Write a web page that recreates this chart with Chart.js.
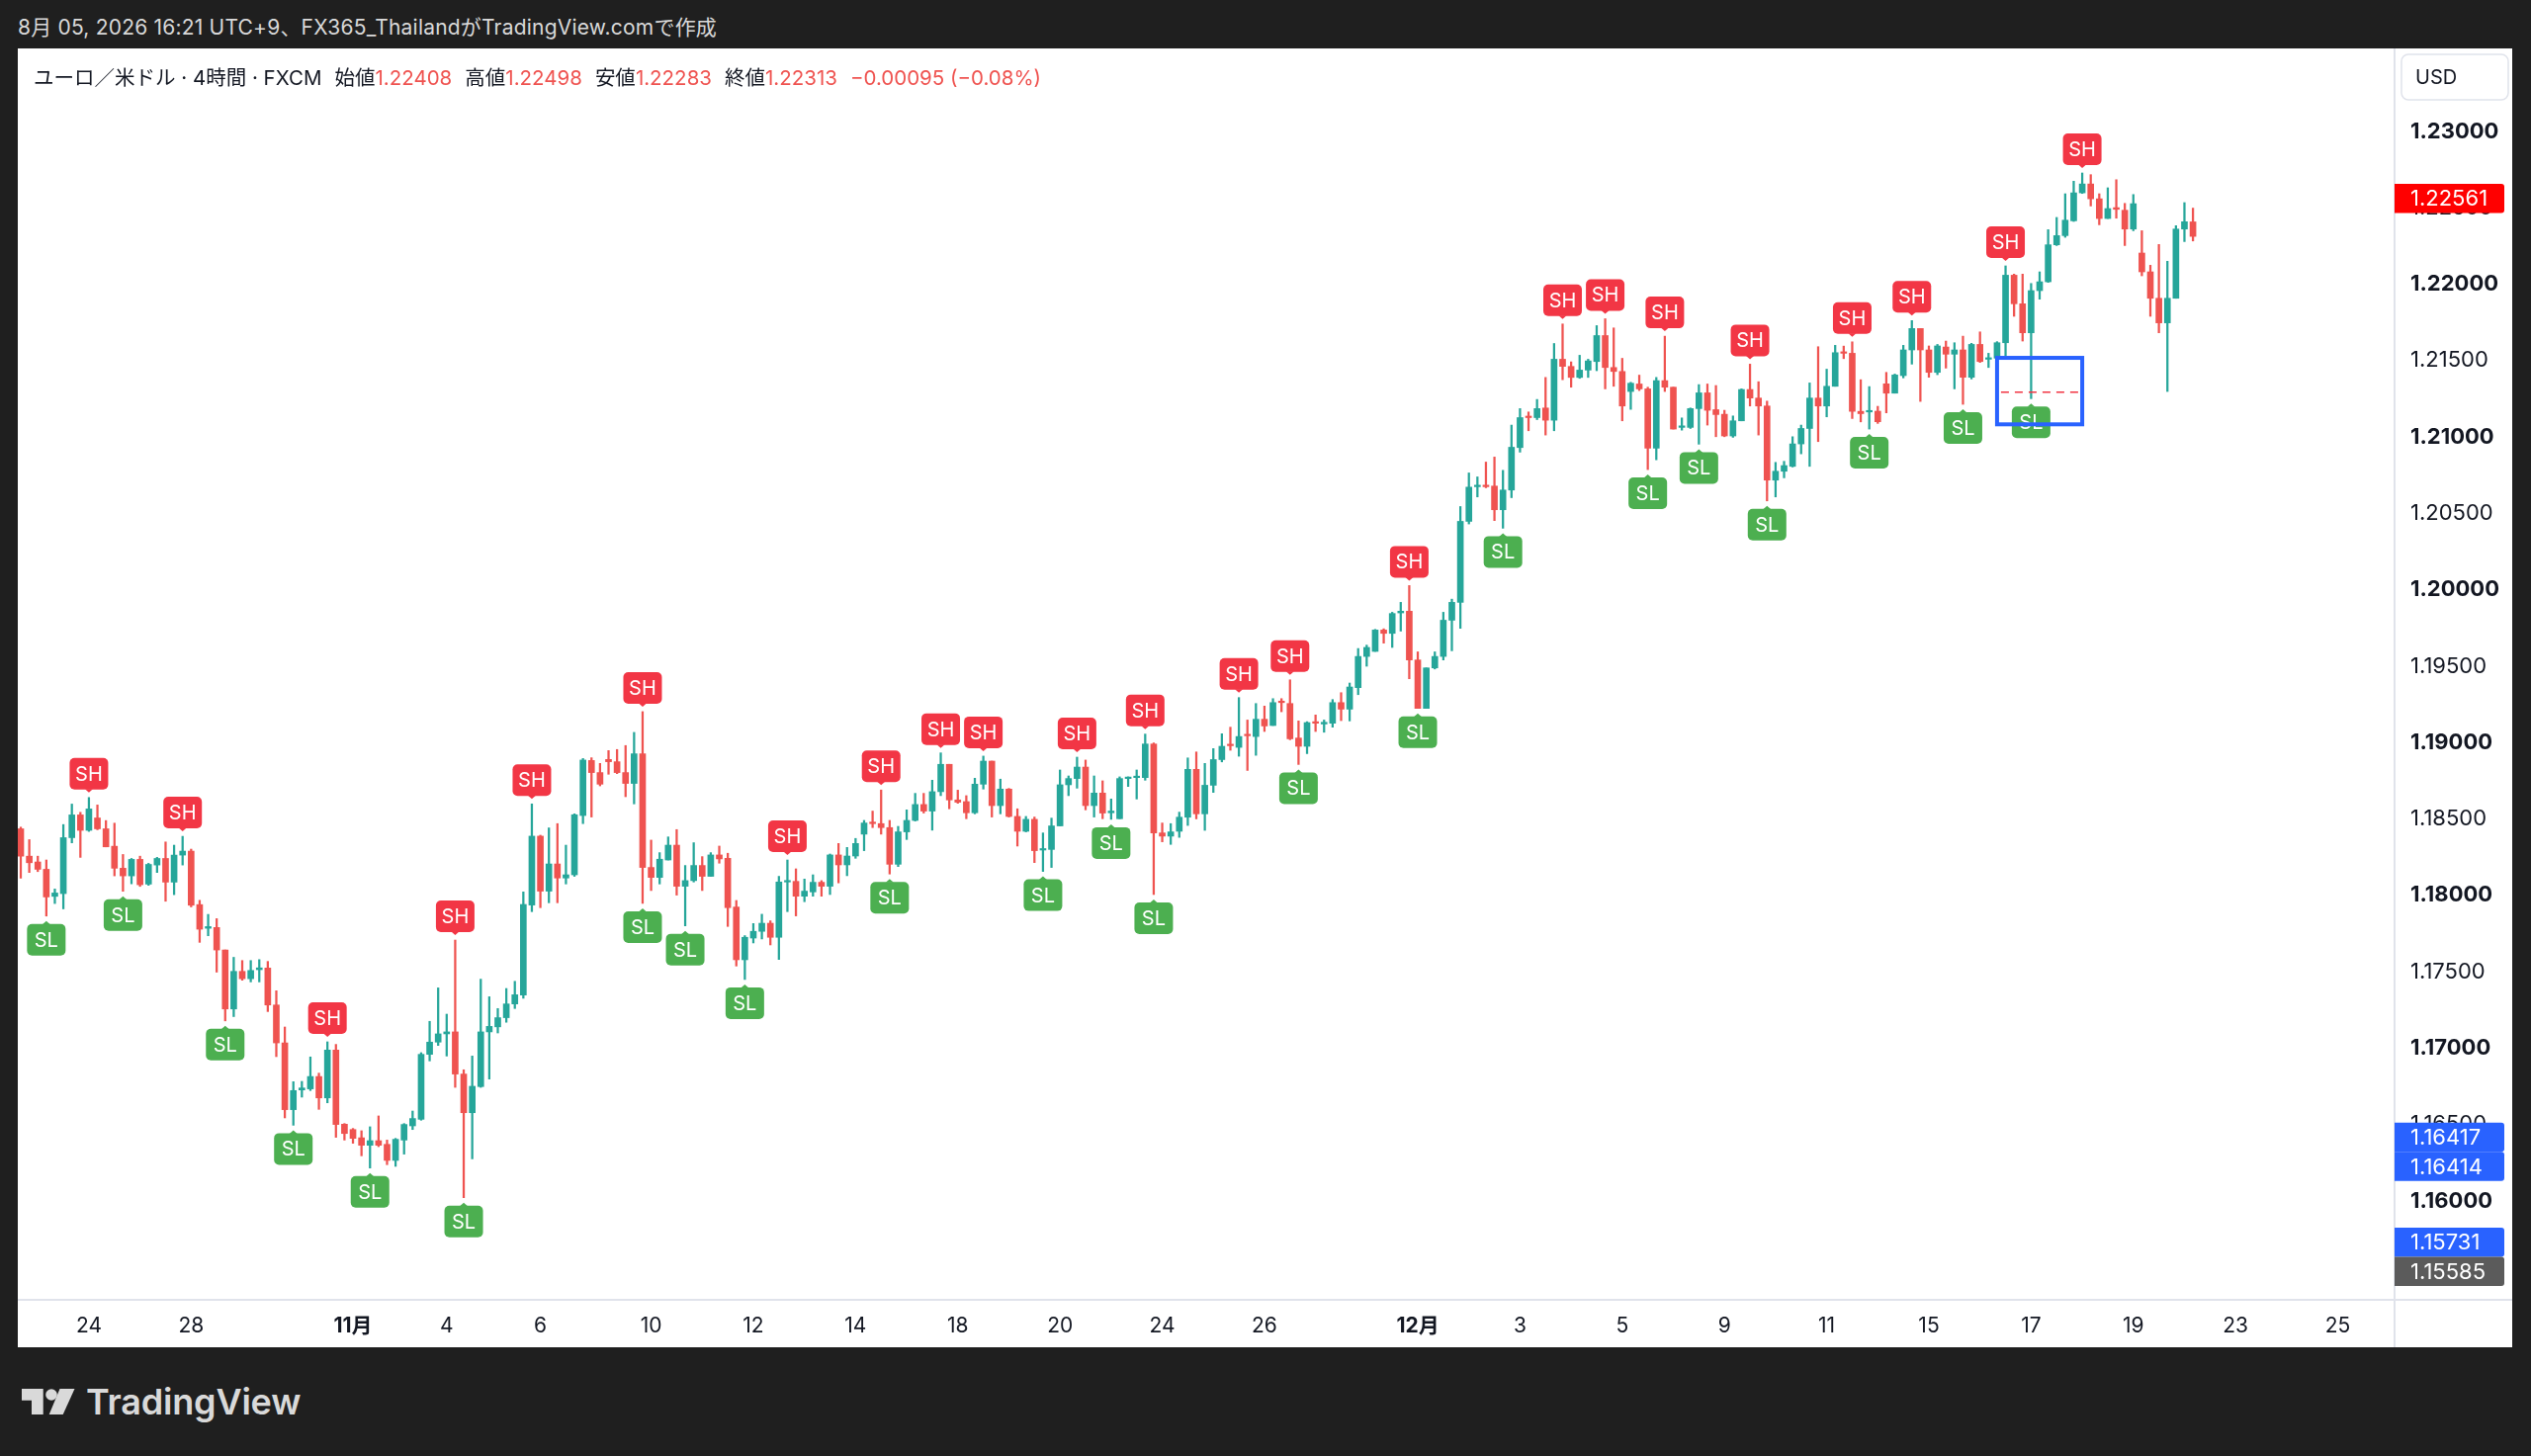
<!DOCTYPE html>
<html lang="ja">
<head>
<meta charset="utf-8">
<title>ユーロ／米ドル · 4時間 · FXCM</title>
<script src="https://cdn.jsdelivr.net/npm/chart.js@4.4.1/dist/chart.umd.min.js"></script>
<style>
  html, body { margin: 0; padding: 0; }
  body {
    width: 2560px; height: 1473px; background: #1f1f1f;
    position: relative; overflow: hidden;
    font-family: "Inter", "Noto Sans CJK JP", sans-serif;
  }
  #topbar { position: absolute; left: 18px; top: 13px; font-size: 21px; line-height: 30px; color: #d9d9d9; white-space: nowrap; letter-spacing: 0.2px; }
  #panel { position: absolute; left: 18px; top: 49px; width: 2523px; height: 1314px; background: #fff; }
  #legend { position: absolute; left: 16px; top: 15px; font-size: 20.5px; line-height: 30px; color: #131722; white-space: nowrap; z-index: 2; }
  #legend .v { color: #ef5350; }
  #legend .g { margin-left: 13px; }
  #logo { position: absolute; left: 22px; top: 1405px; width: 54px; height: 26px; }
  #brand { position: absolute; left: 87px; top: 1400px; font-size: 36px; line-height: 36px; font-weight: 600; color: #d9d9d9; letter-spacing: -0.2px; }
</style>
</head>
<body>
<div id="topbar">8月 05, 2026 16:21 UTC+9、FX365_ThailandがTradingView.comで作成</div>
<div id="panel">
  <div id="legend">ユーロ／米ドル · 4時間 · FXCM<span class="g">始値</span><span class="v">1.22408</span><span class="g">高値</span><span class="v">1.22498</span><span class="g">安値</span><span class="v">1.22283</span><span class="g">終値</span><span class="v">1.22313</span><span class="g v">−0.00095 (−0.08%)</span></div>
  <canvas id="chart"></canvas>
</div>
<svg id="logo" viewBox="0 0 54 26"><path fill="#d9d9d9" d="M0 0H21.7V26H10V11.7H0Z"/><circle fill="#d9d9d9" cx="30" cy="6" r="5.8"/><path fill="#d9d9d9" d="M38.5 0H53.5L41.7 26H27.7Z"/></svg>
<div id="brand">TradingView</div>
<script>
const FONT = '"Inter", "Noto Sans CJK JP", sans-serif';
const UP = '#26a69a';
const DOWN = '#ef5350';

// 4h candles, oldest first
const open = [
  1.18436, 1.18257, 1.18219, 1.18171, 1.17994, 1.18012, 1.18378, 1.18527, 1.18426, 1.18507,
  1.18436, 1.18322, 1.18178, 1.18128, 1.18236, 1.18074, 1.18199, 1.18242, 1.18087, 1.18264,
  1.18290, 1.17940, 1.17785, 1.17790, 1.17643, 1.17257, 1.17503, 1.17455, 1.17514, 1.17525,
  1.17283, 1.17035, 1.16598, 1.16727, 1.16734, 1.16815, 1.16675, 1.16988, 1.16503, 1.16468,
  1.16414, 1.16365, 1.16395, 1.16371, 1.16266, 1.16399, 1.16492, 1.16535, 1.16960, 1.17040,
  1.17094, 1.17107, 1.16831, 1.16578, 1.16749, 1.17107, 1.17140, 1.17200, 1.17290, 1.17348,
  1.17937, 1.18388, 1.18028, 1.18206, 1.18114, 1.18135, 1.18523, 1.18883, 1.18804, 1.18890,
  1.18875, 1.18804, 1.18733, 1.18927, 1.18183, 1.18118, 1.18232, 1.18329, 1.18060, 1.18097,
  1.18196, 1.18125, 1.18265, 1.18243, 1.17924, 1.17579, 1.17721, 1.17765, 1.17818, 1.17726,
  1.18088, 1.18092, 1.17995, 1.18023, 1.18086, 1.18060, 1.18265, 1.18200, 1.18258, 1.18401,
  1.18480, 1.18470, 1.18444, 1.18204, 1.18416, 1.18491, 1.18595, 1.18552, 1.18679, 1.18858,
  1.18625, 1.18614, 1.18541, 1.18728, 1.18879, 1.18588, 1.18696, 1.18517, 1.18420, 1.18498,
  1.18297, 1.18301, 1.18455, 1.18724, 1.18765, 1.18840, 1.18588, 1.18670, 1.18541, 1.18502,
  1.18765, 1.18771, 1.18771, 1.18991, 1.18409, 1.18388, 1.18420, 1.18512, 1.18825, 1.18534,
  1.18721, 1.18889, 1.18987, 1.18969, 1.19051, 1.19040, 1.19153, 1.19112, 1.19271, 1.19256,
  1.19030, 1.18976, 1.19137, 1.19122, 1.19127, 1.19262, 1.19219, 1.19360, 1.19564, 1.19597,
  1.19737, 1.19715, 1.19849, 1.19860, 1.19541, 1.19224, 1.19489, 1.19564, 1.19801, 1.19918,
  1.20448, 1.20675, 1.20685, 1.20679, 1.20524, 1.20653, 1.20931, 1.21136, 1.21127, 1.21190,
  1.21110, 1.21509, 1.21462, 1.21390, 1.21438, 1.21494, 1.21664, 1.21455, 1.21429, 1.21298,
  1.21347, 1.21315, 1.20927, 1.21369, 1.21326, 1.21063, 1.21063, 1.21186, 1.21289, 1.21179,
  1.21149, 1.21007, 1.21106, 1.21311, 1.21255, 1.21203, 1.20718, 1.20776, 1.20808, 1.20955,
  1.21056, 1.21255, 1.21203, 1.21332, 1.21556, 1.21548, 1.21168, 1.21164, 1.21169, 1.21348,
  1.21287, 1.21402, 1.21570, 1.21710, 1.21570, 1.21423, 1.21589, 1.21542, 1.21570, 1.21391,
  1.21606, 1.21509, 1.21516, 1.21617, 1.22059, 1.21872, 1.21682, 1.21958, 1.22016, 1.22258,
  1.22318, 1.22415, 1.22598, 1.22656, 1.22559, 1.22430, 1.22501, 1.22484, 1.22361, 1.22204,
  1.22081, 1.21908, 1.21747, 1.21908, 1.22361, 1.22408
];
const high = [
  1.18447, 1.18365, 1.18257, 1.18232, 1.18042, 1.18464, 1.18598, 1.18544, 1.18641, 1.18592,
  1.18490, 1.18473, 1.18268, 1.18242, 1.18257, 1.18210, 1.18249, 1.18350, 1.18329, 1.18387,
  1.18303, 1.17968, 1.17876, 1.17848, 1.17643, 1.17595, 1.17574, 1.17574, 1.17580, 1.17568,
  1.17376, 1.17139, 1.16781, 1.16783, 1.16943, 1.16837, 1.17042, 1.17025, 1.16507, 1.16475,
  1.16460, 1.16486, 1.16557, 1.16399, 1.16410, 1.16507, 1.16589, 1.16971, 1.17176, 1.17395,
  1.17223, 1.17708, 1.16859, 1.16949, 1.17452, 1.17337, 1.17260, 1.17391, 1.17438, 1.18023,
  1.18599, 1.18394, 1.18442, 1.18470, 1.18329, 1.18534, 1.18896, 1.18901, 1.18864, 1.18948,
  1.18955, 1.18981, 1.19067, 1.19203, 1.18362, 1.18280, 1.18383, 1.18431, 1.18196, 1.18345,
  1.18254, 1.18280, 1.18323, 1.18276, 1.17967, 1.17737, 1.17816, 1.17877, 1.17834, 1.18125,
  1.18232, 1.18174, 1.18107, 1.18135, 1.18097, 1.18271, 1.18340, 1.18314, 1.18373, 1.18491,
  1.18552, 1.18690, 1.18491, 1.18452, 1.18560, 1.18668, 1.18668, 1.18754, 1.18933, 1.18858,
  1.18689, 1.18653, 1.18767, 1.18912, 1.18879, 1.18761, 1.18700, 1.18567, 1.18517, 1.18513,
  1.18409, 1.18506, 1.18821, 1.18782, 1.18905, 1.18886, 1.18782, 1.18750, 1.18631, 1.18776,
  1.18776, 1.18821, 1.19056, 1.18998, 1.18474, 1.18470, 1.18545, 1.18900, 1.18939, 1.18864,
  1.18961, 1.19058, 1.19101, 1.19295, 1.19148, 1.19256, 1.19239, 1.19288, 1.19288, 1.19411,
  1.19142, 1.19137, 1.19181, 1.19148, 1.19282, 1.19327, 1.19390, 1.19616, 1.19638, 1.19741,
  1.19745, 1.19853, 1.19918, 1.20028, 1.19594, 1.19489, 1.19594, 1.19853, 1.19939, 1.20545,
  1.20765, 1.20739, 1.20836, 1.20869, 1.20782, 1.21078, 1.21186, 1.21164, 1.21246, 1.21390,
  1.21612, 1.21740, 1.21492, 1.21535, 1.21509, 1.21729, 1.21774, 1.21714, 1.21515, 1.21358,
  1.21405, 1.21326, 1.21390, 1.21660, 1.21326, 1.21125, 1.21190, 1.21343, 1.21347, 1.21337,
  1.21175, 1.21138, 1.21315, 1.21477, 1.21362, 1.21235, 1.20834, 1.20841, 1.21002, 1.21078,
  1.21354, 1.21591, 1.21444, 1.21600, 1.21595, 1.21623, 1.21375, 1.21330, 1.21201, 1.21423,
  1.21412, 1.21600, 1.21762, 1.21710, 1.21596, 1.21606, 1.21628, 1.21617, 1.21660, 1.21613,
  1.21688, 1.21548, 1.21624, 1.22120, 1.22066, 1.22066, 1.22005, 1.22081, 1.22357, 1.22437,
  1.22592, 1.22674, 1.22728, 1.22717, 1.22592, 1.22631, 1.22684, 1.22529, 1.22587, 1.22350,
  1.22124, 1.22260, 1.22150, 1.22383, 1.22534, 1.22498
];
const low = [
  1.18113, 1.18150, 1.18156, 1.17865, 1.17947, 1.17912, 1.18344, 1.18249, 1.18419, 1.18430,
  1.18318, 1.18128, 1.18027, 1.18076, 1.18059, 1.18066, 1.18150, 1.17962, 1.18005, 1.18199,
  1.17925, 1.17693, 1.17736, 1.17498, 1.17179, 1.17207, 1.17445, 1.17434, 1.17434, 1.17240,
  1.16945, 1.16544, 1.16496, 1.16680, 1.16723, 1.16600, 1.16643, 1.16417, 1.16399, 1.16378,
  1.16296, 1.16216, 1.16356, 1.16238, 1.16227, 1.16307, 1.16468, 1.16529, 1.16917, 1.17018,
  1.16949, 1.16744, 1.16022, 1.16276, 1.16744, 1.16798, 1.17100, 1.17170, 1.17260, 1.17327,
  1.17894, 1.17920, 1.17952, 1.17952, 1.18075, 1.18125, 1.18470, 1.18513, 1.18717, 1.18793,
  1.18797, 1.18646, 1.18599, 1.17948, 1.18032, 1.18075, 1.18232, 1.18002, 1.17801, 1.18088,
  1.18032, 1.18125, 1.18211, 1.17797, 1.17538, 1.17450, 1.17689, 1.17715, 1.17676, 1.17581,
  1.17894, 1.17866, 1.17959, 1.17995, 1.17995, 1.18006, 1.18082, 1.18129, 1.18243, 1.18293,
  1.18444, 1.18401, 1.18140, 1.18189, 1.18366, 1.18487, 1.18539, 1.18427, 1.18653, 1.18567,
  1.18603, 1.18502, 1.18534, 1.18696, 1.18513, 1.18534, 1.18513, 1.18323, 1.18416, 1.18215,
  1.18157, 1.18183, 1.18455, 1.18653, 1.18702, 1.18560, 1.18513, 1.18502, 1.18498, 1.18502,
  1.18713, 1.18631, 1.18754, 1.18006, 1.18351, 1.18334, 1.18380, 1.18458, 1.18501, 1.18426,
  1.18674, 1.18874, 1.18950, 1.18911, 1.18818, 1.18917, 1.19073, 1.19112, 1.19202, 1.19019,
  1.18857, 1.18928, 1.19073, 1.19068, 1.19101, 1.19144, 1.19142, 1.19314, 1.19500, 1.19597,
  1.19651, 1.19623, 1.19730, 1.19418, 1.19224, 1.19224, 1.19482, 1.19541, 1.19601, 1.19748,
  1.20431, 1.20608, 1.20668, 1.20453, 1.20403, 1.20603, 1.20901, 1.21041, 1.21114, 1.21013,
  1.21041, 1.21375, 1.21326, 1.21384, 1.21390, 1.21434, 1.21315, 1.21332, 1.21106, 1.21181,
  1.21304, 1.20787, 1.20851, 1.21298, 1.21052, 1.21045, 1.21056, 1.20953, 1.21078, 1.21002,
  1.21002, 1.20998, 1.21106, 1.21203, 1.21013, 1.20582, 1.20608, 1.20733, 1.20804, 1.20890,
  1.20808, 1.20970, 1.21132, 1.21332, 1.21513, 1.21121, 1.21099, 1.21052, 1.21089, 1.21158,
  1.21287, 1.21387, 1.21477, 1.21233, 1.21391, 1.21408, 1.21451, 1.21315, 1.21214, 1.21380,
  1.21488, 1.21455, 1.21516, 1.21531, 1.21790, 1.21628, 1.21251, 1.21902, 1.22012, 1.22253,
  1.22307, 1.22411, 1.22594, 1.22512, 1.22389, 1.22430, 1.22432, 1.22253, 1.22350, 1.22055,
  1.21790, 1.21682, 1.21298, 1.21908, 1.22279, 1.22283
];
const close = [
  1.18257, 1.18214, 1.18171, 1.17990, 1.18016, 1.18378, 1.18527, 1.18426, 1.18566, 1.18436,
  1.18318, 1.18178, 1.18128, 1.18236, 1.18070, 1.18203, 1.18242, 1.18087, 1.18264, 1.18290,
  1.17936, 1.17779, 1.17796, 1.17643, 1.17257, 1.17503, 1.17455, 1.17509, 1.17526, 1.17283,
  1.17035, 1.16598, 1.16723, 1.16740, 1.16815, 1.16675, 1.16988, 1.16501, 1.16442, 1.16410,
  1.16365, 1.16395, 1.16365, 1.16266, 1.16404, 1.16501, 1.16540, 1.16960, 1.17040, 1.17094,
  1.17107, 1.16831, 1.16578, 1.16751, 1.17107, 1.17143, 1.17200, 1.17290, 1.17350, 1.17941,
  1.18388, 1.18028, 1.18206, 1.18114, 1.18135, 1.18528, 1.18886, 1.18804, 1.18728, 1.18875,
  1.18804, 1.18733, 1.18927, 1.18183, 1.18118, 1.18237, 1.18329, 1.18060, 1.18097, 1.18196,
  1.18125, 1.18265, 1.18239, 1.17920, 1.17579, 1.17726, 1.17765, 1.17818, 1.17726, 1.18088,
  1.18097, 1.17995, 1.18028, 1.18086, 1.18060, 1.18265, 1.18200, 1.18258, 1.18340, 1.18474,
  1.18470, 1.18444, 1.18204, 1.18416, 1.18491, 1.18595, 1.18552, 1.18679, 1.18858, 1.18625,
  1.18610, 1.18541, 1.18728, 1.18879, 1.18588, 1.18696, 1.18517, 1.18420, 1.18498, 1.18293,
  1.18306, 1.18455, 1.18724, 1.18765, 1.18840, 1.18588, 1.18670, 1.18539, 1.18552, 1.18765,
  1.18771, 1.18780, 1.18991, 1.18409, 1.18388, 1.18416, 1.18512, 1.18825, 1.18534, 1.18721,
  1.18889, 1.18976, 1.18980, 1.19040, 1.19045, 1.19153, 1.19109, 1.19262, 1.19262, 1.19025,
  1.18976, 1.19131, 1.19127, 1.19133, 1.19262, 1.19219, 1.19364, 1.19564, 1.19623, 1.19737,
  1.19715, 1.19845, 1.19860, 1.19541, 1.19224, 1.19489, 1.19564, 1.19801, 1.19918, 1.20448,
  1.20672, 1.20683, 1.20675, 1.20524, 1.20653, 1.20933, 1.21127, 1.21127, 1.21186, 1.21110,
  1.21509, 1.21462, 1.21390, 1.21438, 1.21498, 1.21664, 1.21455, 1.21429, 1.21203, 1.21352,
  1.21315, 1.20927, 1.21369, 1.21326, 1.21052, 1.21073, 1.21186, 1.21289, 1.21175, 1.21147,
  1.21007, 1.21106, 1.21311, 1.21255, 1.21203, 1.20718, 1.20776, 1.20813, 1.20955, 1.21056,
  1.21255, 1.21203, 1.21332, 1.21552, 1.21548, 1.21168, 1.21153, 1.21171, 1.21100, 1.21287,
  1.21406, 1.21570, 1.21710, 1.21570, 1.21423, 1.21596, 1.21542, 1.21570, 1.21391, 1.21606,
  1.21494, 1.21516, 1.21617, 1.22059, 1.21872, 1.21682, 1.21958, 1.22016, 1.22258, 1.22318,
  1.22419, 1.22598, 1.22656, 1.22559, 1.22430, 1.22495, 1.22490, 1.22361, 1.22527, 1.22081,
  1.21908, 1.21747, 1.21908, 1.22361, 1.22409, 1.22313
];

// time axis: candle number -> label
const timeTickIdx = [9, 21, 40, 51, 62, 75, 87, 99, 111, 123, 135, 147, 165, 177, 189, 201, 213, 225, 237, 249, 261, 273];
const timeTickLabels = ['24', '28', '11月', '4', '6', '10', '12', '14', '18', '20', '24', '26', '12月', '3', '5', '9', '11', '15', '17', '19', '23', '25'];
const priceTicks = [1.155, 1.16, 1.165, 1.17, 1.175, 1.18, 1.185, 1.19, 1.195, 1.2, 1.205, 1.21, 1.215, 1.22, 1.225, 1.23];

// swing markers (candle numbers)
const swingHighIdx = [9, 20, 37, 52, 61, 74, 91, 102, 109, 114, 125, 133, 144, 150, 164, 182, 187, 194, 204, 216, 223, 234, 243];
const swingLowIdx = [4, 13, 25, 33, 42, 53, 74, 79, 86, 103, 121, 129, 134, 151, 165, 175, 192, 198, 206, 218, 229, 237];

// price tags on the right scale
const tagValues = [1.22561, 1.16417, 1.16414, 1.15731, 1.15585];
const tagColors = ['#ff0000', '#2962ff', '#2962ff', '#2962ff', '#5b5b5b'];

// drawn rectangle
const boxIdx = [233, 243];
const boxPrices = [1.21518, 1.21083];
const boxMidPrice = 1.21294;

const idx = open.map((_, i) => i + 1);
const colorOf = i => close[i] >= open[i] ? UP : DOWN;

const overlay = {
  id: 'overlay',
  afterDatasetsDraw(chart) {
    const ctx = chart.ctx, xs = chart.scales.x, ys = chart.scales.y, a = chart.chartArea;
    ctx.save();
    ctx.beginPath();
    ctx.rect(a.left, a.top, a.right - a.left, a.bottom - a.top);
    ctx.clip();

    function badge(x, tip, above, text, color) {
      const w = 39, h = 32, p = 3;
      const top = above ? tip - p - h : tip + p;
      ctx.fillStyle = color;
      ctx.beginPath();
      ctx.roundRect(x - w / 2, top, w, h, 5);
      ctx.fill();
      ctx.beginPath();
      if (above) { ctx.moveTo(x - 4, tip - p - 0.5); ctx.lineTo(x + 4, tip - p - 0.5); }
      else { ctx.moveTo(x - 4, tip + p + 0.5); ctx.lineTo(x + 4, tip + p + 0.5); }
      ctx.lineTo(x, tip);
      ctx.fill();
      ctx.fillStyle = '#ffffff';
      ctx.font = '20px ' + FONT;
      ctx.textAlign = 'center';
      ctx.textBaseline = 'middle';
      ctx.fillText(text, x, top + h / 2 + 1);
    }
    swingHighIdx.forEach(n => badge(xs.getPixelForValue(n), ys.getPixelForValue(high[n - 1]) - 5, true, 'SH', '#f23645'));
    swingLowIdx.forEach(n => badge(xs.getPixelForValue(n), ys.getPixelForValue(low[n - 1]) + 5, false, 'SL', '#4caf50'));

    // blue rectangle with dashed mid line
    const x0 = xs.getPixelForValue(boxIdx[0]), x1 = xs.getPixelForValue(boxIdx[1]);
    const y0 = ys.getPixelForValue(boxPrices[0]), y1 = ys.getPixelForValue(boxPrices[1]);
    const ym = ys.getPixelForValue(boxMidPrice);
    ctx.strokeStyle = '#f23645';
    ctx.lineWidth = 1.5;
    ctx.setLineDash([8, 6]);
    ctx.beginPath();
    ctx.moveTo(x0 + 4, ym);
    ctx.lineTo(x1 - 4, ym);
    ctx.stroke();
    ctx.setLineDash([]);
    ctx.strokeStyle = '#2962ff';
    ctx.lineWidth = 4;
    ctx.strokeRect(x0, y0, x1 - x0, y1 - y0);
    ctx.restore();
  },
  afterDraw(chart) {
    const ctx = chart.ctx, ys = chart.scales.y, a = chart.chartArea;
    ctx.save();
    ctx.fillStyle = '#e0e3eb';
    ctx.fillRect(a.right, 0, 2, chart.height);
    ctx.fillRect(0, a.bottom, chart.width, 2);

    // price tags, pushed down when they overlap
    const h = 29.5;
    let prevBottom = -Infinity;
    tagValues.map((v, i) => ({ v, c: tagColors[i] }))
      .sort((p, q) => q.v - p.v)
      .forEach(t => {
        const top = Math.max(ys.getPixelForValue(t.v) - h / 2, prevBottom);
        prevBottom = top + h;
        ctx.fillStyle = t.c;
        ctx.beginPath();
        ctx.roundRect(a.right + 1, top, 111, h, [0, 3, 3, 0]);
        ctx.fill();
        ctx.fillStyle = '#ffffff';
        ctx.font = '22px ' + FONT;
        ctx.textAlign = 'left';
        ctx.textBaseline = 'middle';
        ctx.fillText(t.v.toFixed(5), a.right + 17, top + h / 2 + 1);
      });

    // currency box
    ctx.fillStyle = '#ffffff';
    ctx.strokeStyle = '#e0e3eb';
    ctx.lineWidth = 1.5;
    ctx.beginPath();
    ctx.roundRect(a.right + 8, 6, 108, 46, 7);
    ctx.fill();
    ctx.stroke();
    ctx.fillStyle = '#131722';
    ctx.font = '20px ' + FONT;
    ctx.textAlign = 'left';
    ctx.fillText('USD', a.right + 22, 30);
    ctx.restore();
  }
};

new Chart(document.getElementById('chart'), {
  type: 'bar',
  data: {
    datasets: [
      {
        data: idx.map((x, i) => ({ x, y: [low[i], high[i]] })),
        backgroundColor: c => colorOf(c.dataIndex),
        barThickness: 1.6,
        grouped: false,
        minBarLength: 1
      },
      {
        data: idx.map((x, i) => ({ x, y: [open[i], close[i]] })),
        backgroundColor: c => colorOf(c.dataIndex),
        barThickness: 6,
        grouped: false,
        minBarLength: 1.5
      }
    ]
  },
  options: {
    animation: false,
    responsive: true,
    maintainAspectRatio: false,
    layout: { padding: 0 },
    plugins: { legend: { display: false }, tooltip: { enabled: false } },
    scales: {
      x: {
        type: 'linear',
        min: 0.652,
        max: 279.55,
        offset: false,
        grid: { display: false, drawTicks: false },
        border: { display: false },
        afterBuildTicks: s => { s.ticks = timeTickIdx.map(v => ({ value: v })); },
        afterFit: s => { s.height = 49; s.paddingLeft = 0; s.paddingRight = 0; },
        ticks: {
          autoSkip: false,
          maxRotation: 0,
          padding: 15,
          color: '#131722',
          font: c => ({ family: FONT, size: 21, weight: (c.tick && String(timeTickLabels[timeTickIdx.indexOf(c.tick.value)]).includes('月')) ? 'bold' : 'normal' }),
          callback: v => timeTickLabels[timeTickIdx.indexOf(v)]
        }
      },
      y: {
        position: 'right',
        min: 1.15360,
        max: 1.23543,
        grid: { display: false, drawTicks: false },
        border: { display: false },
        afterBuildTicks: s => { s.ticks = priceTicks.map(v => ({ value: v })); },
        afterFit: s => { s.width = 120; s.paddingTop = 0; s.paddingBottom = 0; },
        ticks: {
          autoSkip: false,
          padding: 17,
          color: '#131722',
          font: c => ({ family: FONT, size: 22, weight: (c.tick && Math.abs(c.tick.value * 100 - Math.round(c.tick.value * 100)) < 1e-6) ? 'bold' : 'normal' }),
          callback: v => v.toFixed(5)
        }
      }
    }
  },
  plugins: [overlay]
});
</script>
</body>
</html>
